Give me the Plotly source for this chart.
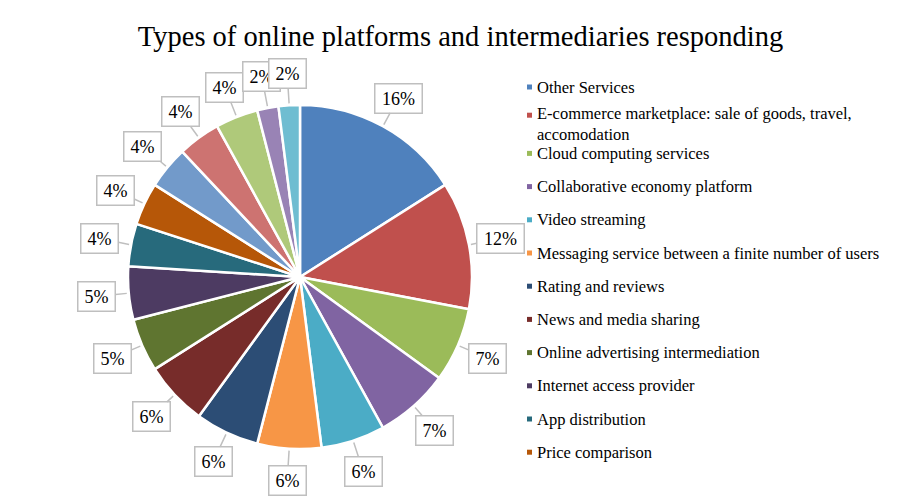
import math
import plotly.graph_objects as go

W, H = 912, 502

labels = [
    "Other Services",
    "E-commerce marketplace: sale of goods, travel,<br>accomodation",
    "Cloud computing services",
    "Collaborative economy platform",
    "Video streaming",
    "Messaging service between a finite number of users",
    "Rating and reviews",
    "News and media sharing",
    "Online advertising intermediation",
    "Internet access provider",
    "App distribution",
    "Price comparison",
    "Search engine",
    "Social networking",
    "Online payment",
    "Online gaming",
    "Audiovisual media",
]
values = [16, 12, 7, 7, 6, 6, 6, 6, 5, 5, 4, 4, 4, 4, 4, 2, 2]
colors = [
    "#4F81BD", "#C0504D", "#9BBB59", "#8064A2", "#4BACC6", "#F79646",
    "#2C4D75", "#772C2A", "#5F7530", "#4D3B62", "#276A7C", "#B65708",
    "#729ACA", "#CD7371", "#AFC97A", "#9983B5", "#6FBDD1",
]
legend_count = 12  # the reference legend is cut after 12 entries

FONT = "Liberation Serif, Times New Roman, serif"

# pie geometry (pixels, from top-left)
cx, cy, R = 300, 277, 172

fig = go.Figure()
fig.add_trace(go.Pie(
    labels=labels, values=values, sort=False, direction="clockwise", rotation=0,
    marker=dict(colors=colors, line=dict(color="white", width=2.5)),
    textinfo="none", hoverinfo="label+percent", showlegend=False,
    domain=dict(x=[(cx - R) / W, (cx + R) / W],
                y=[(H - cy - R) / H, (H - cy + R) / H]),
))

# data labels (callout boxes) placed at each slice's mid-angle
total = sum(values)
annotations = []
cum = 0
for v in values:
    mid = (cum + v / 2) / total * 2 * math.pi
    cum += v
    sx, sy = math.sin(mid), -math.cos(mid)
    px_, py_ = cx + (R + 2) * sx, cy + (R + 2) * sy
    rt = 204
    tx, ty = cx + rt * sx, cy + rt * sy
    txt = f"{round(v / total * 100)}%"
    annotations.append(dict(
        x=px_ / W, y=1 - py_ / H, xref="paper", yref="paper",
        text=txt, showarrow=True, arrowhead=0, arrowwidth=1.5,
        arrowcolor="#BFBFBF", ax=tx - px_, ay=ty - py_,
        font=dict(family=FONT, size=18, color="black"),
        bgcolor="white", bordercolor="#BFBFBF", borderwidth=1.5,
        width=16 + 10 * len(txt) - 2, height=26, borderpad=1,
    ))

# manual legend (first 12 entries, as in the reference)
shapes = []
row0, step = 87, 33.2
for i in range(legend_count):
    ry = row0 + i * step
    nlines = labels[i].count("<br>") + 1
    if nlines > 1:
        ry -= 5
    shapes.append(dict(
        type="rect", xref="paper", yref="paper",
        x0=527 / W, x1=532 / W, y0=1 - (ry + 2.5) / H, y1=1 - (ry - 2.5) / H,
        fillcolor=colors[i], line=dict(width=0),
    ))
    annotations.append(dict(
        x=536 / W, y=1 - (ry + (nlines - 1) * 9) / H, xref="paper", yref="paper",
        xanchor="left", yanchor="middle", align="left", showarrow=False,
        text=labels[i], font=dict(family=FONT, size=16.5, color="black"),
        borderpad=0,
    ))

fig.update_layout(
    width=W, height=H,
    margin=dict(l=0, r=0, t=0, b=0),
    paper_bgcolor="white", plot_bgcolor="white",
    title=dict(text="Types of online platforms and intermediaries responding",
               x=0.505, xanchor="center", y=1 - 36 / H, yanchor="middle",
               yref="container",
               font=dict(family=FONT, size=28.5, color="black")),
    annotations=annotations, shapes=shapes,
)

fig.write_html("out.html")
